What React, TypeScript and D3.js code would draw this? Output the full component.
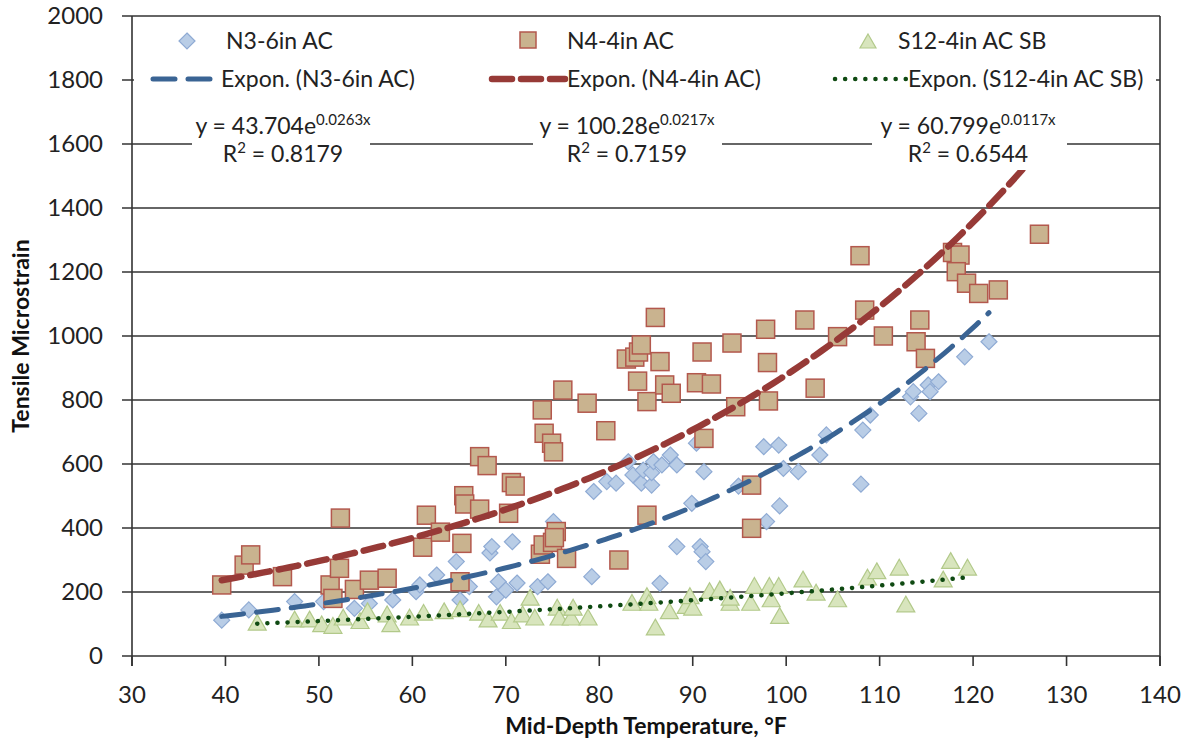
import React from 'react';
import * as d3 from 'd3';

// N3-6in AC (diamonds)
const n3Temp = [39.6,42.5,47.4,50.5,53.8,55.4,57.9,60.4,60.8,62.6,64.7,65.1,66.1,68.3,68.5,69.2,69.0,70.0,70.7,71.2,73.4,74.5,75.1,79.2,79.4,80.8,81.8,83.1,83.6,84.5,84.7,85.6,85.6,85.8,86.7,87.6,88.3,86.5,88.3,90.8,91.0,91.4,89.9,91.2,90.4,94.9,97.6,99.2,97.9,99.3,99.7,101.3,103.6,104.3,108.0,108.2,109.0,113.3,113.6,114.2,115.2,115.4,116.3,119.1,121.7];
const n3Strain = [112,144,170,170,149,164,175,201,222,253,295,175,217,322,342,232,185,206,357,228,217,232,420,248,514,545,540,607,566,540,581,534,573,607,597,628,597,227,342,342,326,295,477,576,665,531,654,659,420,469,586,576,628,691,537,706,753,810,826,758,847,826,857,935,982];

// N4-4in AC (squares)
const n4Temp = [39.6,42.0,42.7,46.1,51.2,51.5,52.2,52.3,53.8,55.4,57.3,61.1,61.5,63.0,65.1,65.3,65.5,65.6,67.2,67.2,68.0,70.3,70.6,71.0,73.7,74.0,75.0,75.4,75.2,76.5,73.9,74.1,74.9,75.1,76.1,78.7,80.7,82.1,82.9,83.8,84.2,84.5,84.1,85.1,85.1,86.0,86.5,87.0,87.7,90.4,91.0,91.2,92.0,94.2,94.6,96.3,96.3,97.8,98.0,98.1,102.0,103.1,105.5,107.9,108.4,110.4,113.9,114.3,114.9,117.8,118.6,118.2,119.3,120.6,122.7,127.1];
const n4Strain = [222,284,316,248,222,180,274,431,208,237,243,340,440,387,232,352,501,475,459,623,595,446,542,531,318,347,355,389,370,305,769,696,665,638,831,790,704,300,928,934,950,972,859,795,440,1058,920,847,821,854,950,680,850,978,779,534,399,1021,917,797,1050,837,998,1251,1081,1000,982,1050,930,1261,1253,1201,1165,1133,1144,1318];

// S12-4in AC SB (triangles)
const s12Temp = [43.4,47.4,49.0,50.3,51.5,52.6,54.4,55.2,57.3,57.7,59.7,61.2,63.4,65.1,67.1,68.1,69.4,70.6,71.8,72.6,73.1,75.5,75.7,77.0,77.2,78.8,83.5,85.1,85.3,86.0,87.5,89.3,89.7,90.0,91.8,92.9,94.0,94.0,96.2,96.6,98.2,98.4,99.2,99.3,101.8,103.2,105.5,108.7,109.7,112.1,112.8,116.8,117.6,119.4];
const s12Strain = [102,112,112,97,92,118,107,138,128,97,118,133,138,144,133,112,133,107,128,180,118,149,118,118,149,118,164,185,164,87,138,154,185,149,201,206,164,180,164,217,217,175,217,123,237,196,175,243,263,274,159,237,295,274];

// exponential fits shown in the chart
const fitA = [43.704, 100.28, 60.799];
const fitB = [0.0263, 0.0217, 0.0117];
const fitR2 = ['0.8179', '0.7159', '0.6544'];
const fitAText = ['43.704', '100.28', '60.799'];

const seriesNames = ['N3-6in AC', 'N4-4in AC', 'S12-4in AC SB'];
const xTicks = [30, 40, 50, 60, 70, 80, 90, 100, 110, 120, 130, 140];
const yTicks = [0, 200, 400, 600, 800, 1000, 1200, 1400, 1600, 1800, 2000];

const W = 1189, H = 742;
const left = 132, right = 1160, top = 16, bottom = 656;
const font = 'Lato, "Open Sans", sans-serif';

const blue = { fill: '#b9cde6', stroke: '#8fabd4' };
const tan = { fill: '#c9b38f', stroke: '#b3584d' };
const green = { fill: '#d8e5bd', stroke: '#b2c98a' };
const trendStyle = [
  { color: '#3a6494', width: 5, dash: '22 13' },
  { color: '#973a37', width: 6.5, dash: '20 9' },
  { color: '#0f4a12', width: 4.5, dash: '0.1 10' },
];

const Diamond = ({ x, y, s = 8 }: { x: number; y: number; s?: number }) => (
  <path d={`M${x},${y - s}L${x + s},${y}L${x},${y + s}L${x - s},${y}Z`} fill={blue.fill} stroke={blue.stroke} strokeWidth={1.2} />
);
const Square = ({ x, y, s = 9 }: { x: number; y: number; s?: number }) => (
  <rect x={x - s} y={y - s} width={2 * s} height={2 * s} fill={tan.fill} stroke={tan.stroke} strokeWidth={1.5} />
);
const Tri = ({ x, y, s = 9 }: { x: number; y: number; s?: number }) => (
  <path d={`M${x},${y - s}L${x + s},${y + s * 0.75}L${x - s},${y + s * 0.75}Z`} fill={green.fill} stroke={green.stroke} strokeWidth={1.2} />
);

export default function App() {
  const x = d3.scaleLinear().domain([30, 140]).range([left, right]);
  const y = d3.scaleLinear().domain([0, 2000]).range([bottom, top]);

  const temps = [n3Temp, n4Temp, s12Temp];
  const trendPaths = temps.map((t, i) => {
    const [lo, hi] = d3.extent(t) as [number, number];
    const pts = d3.range(lo, hi + 0.001, (hi - lo) / 120);
    return d3.line<number>().x(v => x(v)).y(v => y(fitA[i] * Math.exp(fitB[i] * v)))(pts) || '';
  });

  const labelCx = [283, 627, 968];
  const labelBox = [[192, 370], [533, 722], [872, 1067]];

  return (
    <svg width={W} height={H} style={{ position: 'absolute', left: 0, top: 0, background: '#fff' }} fontFamily={font}>
      {/* grid */}
      {yTicks.map(t => (
        <line key={t} x1={left - 10} x2={right} y1={y(t)} y2={y(t)} stroke="#333" strokeWidth={1.6} />
      ))}
      <line x1={left} x2={left} y1={top} y2={bottom + 10} stroke="#333" strokeWidth={1.6} />
      <line x1={right} x2={right} y1={top} y2={bottom + 10} stroke="#333" strokeWidth={1.6} />
      {xTicks.map(t => (
        <line key={t} x1={x(t)} x2={x(t)} y1={bottom} y2={bottom + 10} stroke="#333" strokeWidth={1.6} />
      ))}
      {yTicks.map(t => (
        <text key={t} x={left - 29} y={y(t) + 8} textAnchor="end" fontSize={24} fill="#222">{t}</text>
      ))}
      {xTicks.map(t => (
        <text key={t} x={x(t)} y={bottom + 47} textAnchor="middle" fontSize={24} fill="#222">{t}</text>
      ))}

      {/* markers */}
      {n3Temp.map((t, i) => <Diamond key={'d' + i} x={x(t)} y={y(n3Strain[i])} />)}
      {n4Temp.map((t, i) => <Square key={'s' + i} x={x(t)} y={y(n4Strain[i])} />)}
      {s12Temp.map((t, i) => <Tri key={'t' + i} x={x(t)} y={y(s12Strain[i])} />)}

      {/* trendlines */}
      {trendPaths.map((d, i) => (
        <path key={i} d={d} fill="none" stroke={trendStyle[i].color} strokeWidth={trendStyle[i].width}
          strokeDasharray={trendStyle[i].dash} strokeLinecap="round" />
      ))}

      {/* legend */}
      <rect x={left + 2} y={top + 5} width={right - left - 6} height={88} fill="#fff" />
      {seriesNames.map((n, i) => {
        const mx = [187, 528, 868][i];
        const tx = [226, 567, 898][i];
        return (
          <g key={n}>
            {i === 0 && <Diamond x={mx} y={41} s={8} />}
            {i === 1 && <Square x={mx} y={40} s={8} />}
            {i === 2 && <Tri x={mx} y={42} s={8} />}
            <text x={tx} y={49} fontSize={23} fill="#222">{n}</text>
          </g>
        );
      })}
      {seriesNames.map((n, i) => {
        const x0 = [153, 492, 835][i];
        const x1 = [219, 565, 906][i];
        return (
          <g key={'l' + n}>
            <line x1={x0} x2={x1} y1={79} y2={79} stroke={trendStyle[i].color} strokeWidth={trendStyle[i].width}
              strokeDasharray={trendStyle[i].dash} strokeLinecap="round" />
            <text x={x1 + 2} y={87} fontSize={23} fill="#222">{`Expon. (${n})`}</text>
          </g>
        );
      })}

      {/* fit labels */}
      {labelCx.map((cx, i) => (
        <g key={'f' + i}>
          <rect x={labelBox[i][0]} y={112} width={labelBox[i][1] - labelBox[i][0]} height={58} fill="#fff" />
          <text x={cx} y={134} textAnchor="middle" fontSize={23} fill="#222">
            {`y = ${fitAText[i]}e`}
            <tspan fontSize={15} dy={-9}>{`${fitB[i]}x`}</tspan>
          </text>
          <text x={cx} y={162} textAnchor="middle" fontSize={23} fill="#222">
            R<tspan fontSize={15} dy={-9}>2</tspan><tspan dy={9}>{` = ${fitR2[i]}`}</tspan>
          </text>
        </g>
      ))}

      {/* axis titles */}
      <text x={646} y={734} textAnchor="middle" fontSize={23} fontWeight="bold" fill="#111">
        Mid-Depth Temperature, °F
      </text>
      <text transform={`translate(29,${(top + bottom) / 2}) rotate(-90)`} textAnchor="middle" fontSize={23} fontWeight="bold" fill="#111">
        Tensile Microstrain
      </text>
    </svg>
  );
}
